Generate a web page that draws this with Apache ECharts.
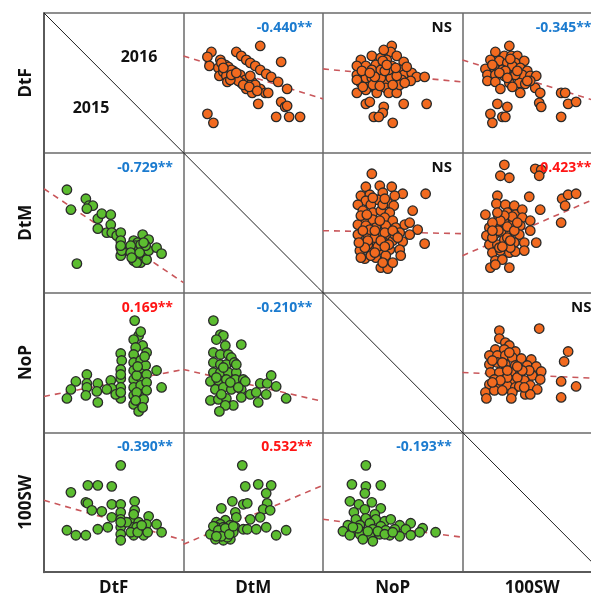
<!DOCTYPE html>
<html>
<head>
<meta charset="utf-8">
<script src="https://cdn.jsdelivr.net/npm/echarts@6/dist/echarts.min.js"></script>
<style>
html,body{margin:0;padding:0;background:#fff;}
#chart{width:591px;height:596px;}
</style>
</head>
<body>
<div id="chart"></div>
<script>
// ---- Variables (matrix order) ----
const varNames = ['DtF', 'DtM', 'NoP', '100SW'];
const yearLabels = ['2016', '2015'];

// ---- 2016 (upper triangle), values on a relative 0-140 scale per panel: [x, y] ----
const f16_DtF_DtM = [[28,101],[24,96],[26,87],[37,93],[35,85],[36,77],[42,88],[40,81],[45,86],[43,77],[44,71],[50,82],[52,75],[53,101],[58,97],[63,93],[67,90],[72,87],[77,83],[83,79],[88,76],[95,71],[104,64],[77,107],[98,91],[57,78],[62,73],[58,70],[63,64],[69,71],[69,60],[77,64],[82,60],[85,60],[75,49],[98,51],[102,46],[104,47],[24,39],[30,30],[93,36],[106,36],[117,36],[48,83],[55,72],[47,73],[67,77],[72,68],[38,90],[48,78],[53,80],[60,68],[66,66],[74,62],[40,85]];
const f16_DtF_NoP = [[69,107],[68,101],[38,93],[49,97],[58,95],[64,93],[74,97],[81,91],[43,87],[53,88],[61,87],[69,87],[78,83],[34,78],[44,78],[54,80],[63,78],[71,78],[81,78],[89,80],[94,76],[102,76],[38,70],[46,70],[56,72],[64,70],[71,72],[79,73],[88,72],[43,63],[53,64],[63,65],[74,65],[34,60],[54,60],[66,60],[74,60],[43,49],[47,51],[61,46],[81,49],[104,49],[60,40],[51,36],[56,36],[70,30],[34,87],[61,103],[43,75],[49,75],[58,75],[68,75],[74,77],[49,83],[58,83],[66,83],[73,85],[34,73],[39,82],[84,86],[60,92],[50,68],[77,68],[40,66],[52,76],[62,82],[70,68],[57,67],[47,80],[64,88],[82,70]];
const f16_DtF_100SW = [[47,107],[33,101],[42,97],[49,97],[55,97],[28,93],[37,92],[45,90],[53,90],[62,92],[23,84],[32,85],[40,83],[50,87],[58,85],[65,82],[25,78],[33,78],[42,77],[52,78],[60,78],[68,77],[74,77],[25,72],[33,71],[47,70],[57,70],[63,69],[38,64],[50,66],[73,65],[58,60],[78,60],[99,60],[103,60],[77,50],[79,46],[106,49],[114,51],[35,49],[45,46],[28,39],[40,36],[43,36],[30,30],[99,36],[43,82],[53,78],[68,72],[37,80],[45,75],[55,82],[30,88],[48,94],[65,72]];
const f16_DtM_NoP = [[49,119],[43,106],[57,107],[69,106],[80,99],[103,99],[38,97],[47,98],[60,100],[43,92],[55,93],[72,97],[35,88],[48,88],[65,90],[71,87],[90,82],[40,82],[50,80],[58,82],[67,80],[42,73],[50,73],[62,75],[70,72],[82,68],[87,70],[35,68],[43,67],[53,65],[63,67],[73,65],[95,63],[35,58],[45,58],[55,58],[65,58],[77,60],[87,58],[40,50],[50,51],[60,51],[70,52],[80,51],[102,49],[37,42],[47,43],[57,43],[67,43],[77,43],[42,34],[53,35],[63,37],[78,37],[58,25],[65,24],[70,30],[60,30],[38,77],[47,63],[57,72],[45,48],[55,46],[62,60],[72,58],[52,55],[38,35],[48,37],[40,62],[52,62],[45,52],[58,52],[66,48],[42,45],[52,40],[62,46],[70,62],[60,88],[50,95],[62,94],[44,78],[36,50],[75,55]];
const f16_DtM_100SW = [[42,128],[38,117],[47,115],[73,124],[79,123],[77,117],[67,96],[100,94],[106,98],[114,99],[103,87],[78,83],[99,70],[35,97],[34,89],[43,88],[23,78],[36,77],[45,80],[52,87],[53,78],[60,83],[60,75],[68,72],[33,68],[42,70],[50,68],[58,67],[68,62],[27,65],[24,57],[32,58],[40,60],[48,60],[57,58],[62,50],[74,50],[27,48],[35,48],[43,50],[52,50],[30,40],[38,42],[47,40],[53,41],[62,42],[33,32],[40,33],[28,25],[47,25],[33,28],[37,45],[42,53],[50,76],[42,77],[36,62],[45,55],[38,72],[30,55],[48,45],[30,70],[35,80],[45,66],[52,62],[40,46],[30,62],[55,70],[48,52]];
const f16_NoP_100SW = [[37,102],[77,104],[37,94],[43,90],[47,87],[33,83],[42,83],[53,81],[106,81],[27,77],[35,77],[43,77],[50,75],[59,74],[69,73],[102,71],[27,68],[35,70],[43,68],[53,67],[65,67],[74,66],[79,61],[28,60],[37,60],[50,60],[58,59],[70,57],[32,53],[42,53],[50,52],[62,52],[78,53],[99,51],[27,48],[37,46],[45,47],[53,45],[68,47],[75,43],[114,46],[23,40],[32,42],[40,42],[50,40],[63,38],[68,38],[24,34],[49,34],[99,35],[55,55],[67,62],[40,70],[60,62],[45,55],[57,46],[30,72],[45,62],[38,52],[55,66],[62,45],[30,50],[47,80]];

// ---- 2015 (lower triangle) ----
const f15_DtM_DtF = [[23,103],[27,83],[42,94],[45,87],[49,87],[43,84],[54,74],[58,79],[67,78],[54,64],[63,60],[67,68],[68,60],[73,57],[77,60],[77,52],[77,45],[77,37],[78,42],[90,52],[90,45],[90,38],[90,32],[94,50],[94,42],[94,35],[97,30],[99,58],[100,43],[100,37],[103,33],[105,53],[105,42],[113,45],[118,39],[33,29],[92,47],[97,48],[93,30],[102,47],[87,47],[87,40],[77,47],[96,40],[100,50],[88,35]];
const f15_NoP_DtF = [[91,112],[95,97],[97,101],[90,93],[99,87],[92,85],[103,80],[90,78],[77,79],[78,72],[77,63],[77,54],[77,45],[77,34],[90,70],[90,62],[90,53],[90,45],[90,37],[90,28],[95,21],[97,72],[97,63],[97,55],[97,47],[97,38],[97,30],[102,67],[103,58],[103,50],[103,42],[100,33],[113,62],[118,45],[67,52],[68,44],[72,38],[63,43],[54,49],[53,41],[54,30],[43,58],[43,49],[43,45],[42,37],[32,51],[27,43],[23,34],[93,40],[93,57],[77,58],[77,40],[94,66],[101,76],[92,32],[99,25]];
const f15_NoP_DtM = [[30,112],[37,98],[40,97],[33,93],[42,87],[58,88],[30,80],[37,78],[45,78],[48,75],[30,70],[37,68],[43,68],[51,70],[30,60],[37,60],[45,60],[53,60],[27,51],[35,52],[43,53],[52,53],[60,53],[32,43],[40,45],[48,43],[58,43],[27,32],[35,33],[43,34],[50,27],[42,27],[36,21],[58,35],[67,38],[73,40],[77,49],[84,49],[88,57],[93,46],[83,38],[75,30],[103,34],[62,51],[53,68],[33,55],[40,65],[47,50],[55,45],[38,38]];
const f15_100SW_DtF = [[77,107],[44,87],[54,87],[68,86],[27,80],[42,70],[44,69],[68,68],[77,68],[91,71],[48,62],[58,61],[77,60],[91,62],[68,55],[77,53],[77,45],[77,38],[77,32],[90,53],[90,45],[90,37],[95,50],[97,42],[100,37],[105,56],[103,48],[104,40],[113,48],[118,40],[23,42],[32,37],[42,37],[54,43],[64,45],[93,45],[87,40],[83,50],[77,50],[94,40],[98,47],[90,58]];
const f15_100SW_DtM = [[59,107],[62,86],[75,88],[88,87],[83,79],[49,71],[60,68],[64,69],[84,69],[38,64],[52,60],[53,55],[80,63],[87,62],[67,53],[77,55],[33,50],[42,52],[47,47],[52,45],[37,43],[30,40],[35,37],[42,38],[47,33],[40,32],[32,33],[60,43],[64,43],[73,43],[83,45],[93,37],[103,42],[27,38],[37,48],[45,42],[33,45],[40,45],[36,40],[44,35],[50,40],[30,46],[35,42],[42,44],[38,36],[46,38],[33,36],[50,46]];
const f15_100SW_NoP = [[43,107],[29,88],[43,86],[58,87],[42,79],[27,71],[36,68],[49,70],[42,63],[58,64],[31,60],[52,58],[33,53],[43,54],[53,53],[62,51],[68,53],[88,49],[25,47],[37,47],[47,49],[58,46],[77,47],[83,43],[100,44],[20,41],[31,42],[40,40],[50,43],[63,42],[72,43],[97,40],[113,40],[27,37],[37,38],[47,37],[57,38],[67,37],[77,36],[88,37],[50,31],[40,33],[35,44],[45,41],[55,41],[62,38],[30,45],[70,40]];

// ---- Fitted (dashed) trend lines: [y at left edge, y at right edge] ----
const fit_f16_DtF_DtM = [97, 54];
const fit_f16_DtF_NoP = [84, 71];
const fit_f16_DtF_100SW = [93, 50];
const fit_f16_DtM_NoP = [62, 59];
const fit_f16_DtM_100SW = [37, 97];
const fit_f16_NoP_100SW = [60, 54];
const fit_f15_DtM_DtF = [104, 10];
const fit_f15_NoP_DtF = [36, 63];
const fit_f15_NoP_DtM = [63, 31];
const fit_f15_100SW_DtF = [72, 32];
const fit_f15_100SW_DtM = [28, 87];
const fit_f15_100SW_NoP = [53, 35];

// ---- Correlation coefficients shown in each panel ----
const corr2016 = ['-0.440**', 'NS', '-0.345**', 'NS', '0.423**', 'NS'];
const corr2015 = ['-0.729**', '0.169**', '-0.210**', '-0.390**', '0.532**', '-0.193**'];

const cells = [
  {row:0, col:1, year:2016, pts:f16_DtF_DtM,   fit:fit_f16_DtF_DtM,   r:corr2016[0]},
  {row:0, col:2, year:2016, pts:f16_DtF_NoP,   fit:fit_f16_DtF_NoP,   r:corr2016[1]},
  {row:0, col:3, year:2016, pts:f16_DtF_100SW, fit:fit_f16_DtF_100SW, r:corr2016[2]},
  {row:1, col:2, year:2016, pts:f16_DtM_NoP,   fit:fit_f16_DtM_NoP,   r:corr2016[3]},
  {row:1, col:3, year:2016, pts:f16_DtM_100SW, fit:fit_f16_DtM_100SW, r:corr2016[4]},
  {row:2, col:3, year:2016, pts:f16_NoP_100SW, fit:fit_f16_NoP_100SW, r:corr2016[5]},
  {row:1, col:0, year:2015, pts:f15_DtM_DtF,   fit:fit_f15_DtM_DtF,   r:corr2015[0]},
  {row:2, col:0, year:2015, pts:f15_NoP_DtF,   fit:fit_f15_NoP_DtF,   r:corr2015[1]},
  {row:2, col:1, year:2015, pts:f15_NoP_DtM,   fit:fit_f15_NoP_DtM,   r:corr2015[2]},
  {row:3, col:0, year:2015, pts:f15_100SW_DtF, fit:fit_f15_100SW_DtF, r:corr2015[3]},
  {row:3, col:1, year:2015, pts:f15_100SW_DtM, fit:fit_f15_100SW_DtM, r:corr2015[4]},
  {row:3, col:2, year:2015, pts:f15_100SW_NoP, fit:fit_f15_100SW_NoP, r:corr2015[5]}
];

// ---- Layout ----
const X0 = 44, Y0 = 13, CW = 139.5, CH = 139.8;
const VIEW_W = 591;
const SCALE = 140;
const FONT = '"Open Sans", "Noto Sans", sans-serif';
const COL16 = '#f26a1f', COL15 = '#5cbd30';

const grid = [], xAxis = [], yAxis = [], series = [], graphic = [];

function gridAt(left, top, w, h) {
  // right may be negative: the matrix continues past the right edge of the view
  return {left: left, top: top, right: VIEW_W - (left + w), height: h,
          containLabel: false, outerBoundsMode: 'none'};
}

cells.forEach((c, i) => {
  grid.push(gridAt(X0 + c.col * CW, Y0 + c.row * CH, CW, CH));
  xAxis.push({gridIndex: i, type: 'value', min: 0, max: SCALE, show: false});
  yAxis.push({gridIndex: i, type: 'value', min: 0, max: SCALE, show: false});
  series.push({
    type: 'line', xAxisIndex: i, yAxisIndex: i, z: 2,
    data: [[0, c.fit[0]], [SCALE, c.fit[1]]],
    showSymbol: false, symbol: 'none', silent: true, clip: true,
    lineStyle: {color: '#c9575b', width: 1.6, type: [6, 5]}
  });
  series.push({
    type: 'scatter', xAxisIndex: i, yAxisIndex: i, z: 3,
    data: c.pts, symbol: 'circle', symbolSize: 9.5, clip: true,
    itemStyle: {color: c.year === 2016 ? COL16 : COL15, borderColor: '#2a2a2a', borderWidth: 1.3, opacity: 1}
  });
  const col = c.r === 'NS' ? '#111111' : (c.r.charAt(0) === '-' ? '#1b7bcf' : '#ff1414');
  graphic.push({
    type: 'text', z: 10,
    x: X0 + (c.col + 1) * CW - 10.5, y: Y0 + c.row * CH + 15,
    style: {text: c.r, fill: col, font: 'bold ' + (c.r === 'NS' ? 15 : 14) + 'px ' + FONT,
            align: 'right', verticalAlign: 'middle', textAlign: 'right', textVerticalAlign: 'middle'}
  });
});

// overlay grid: panel borders, diagonal and variable names
const ov = cells.length;
grid.push(gridAt(X0, Y0, 4 * CW, 4 * CH));
xAxis.push({gridIndex: ov, type: 'value', min: 0, max: 4, interval: 1,
  axisLine: {show: true, lineStyle: {color: '#5a5a5a', width: 2}},
  axisTick: {show: false}, axisLabel: {show: false},
  splitLine: {show: true, lineStyle: {color: '#6a6a6a', width: 1.5}}});
yAxis.push({gridIndex: ov, type: 'value', min: 0, max: 4, interval: 1,
  axisLine: {show: true, lineStyle: {color: '#5a5a5a', width: 2}},
  axisTick: {show: false}, axisLabel: {show: false},
  splitLine: {show: true, lineStyle: {color: '#6a6a6a', width: 1.5}}});
xAxis.push({gridIndex: ov, type: 'category', data: varNames, position: 'bottom',
  axisLine: {show: false}, axisTick: {show: false}, splitLine: {show: false},
  axisLabel: {margin: 7, fontFamily: FONT, fontWeight: 'bold', fontSize: 17, color: '#111'}});
yAxis.push({gridIndex: ov, type: 'category', data: varNames, inverse: true, position: 'left',
  axisLine: {show: false}, axisTick: {show: false}, splitLine: {show: false},
  axisLabel: {margin: 9, rotate: 90, fontFamily: FONT, fontWeight: 'bold', fontSize: 17, color: '#111'}});
series.push({
  type: 'line', xAxisIndex: ov, yAxisIndex: ov, z: 1, silent: true,
  data: [[0, 4], [4, 0]], showSymbol: false, symbol: 'none', clip: false,
  lineStyle: {color: '#222', width: 1}
});

// year labels in the first diagonal panel
graphic.push({type: 'text', z: 10, x: X0 + 95, y: Y0 + 44,
  style: {text: yearLabels[0], fill: '#111', font: 'bold 16px ' + FONT, align: 'center', verticalAlign: 'middle', textAlign: 'center', textVerticalAlign: 'middle'}});
graphic.push({type: 'text', z: 10, x: X0 + 47, y: Y0 + 95,
  style: {text: yearLabels[1], fill: '#111', font: 'bold 16px ' + FONT, align: 'center', verticalAlign: 'middle', textAlign: 'center', textVerticalAlign: 'middle'}});

const chart = echarts.init(document.getElementById('chart'), null, {renderer: 'canvas'});
chart.setOption({
  animation: false,
  backgroundColor: '#ffffff',
  grid, xAxis, yAxis, series, graphic
});
</script>
</body>
</html>
